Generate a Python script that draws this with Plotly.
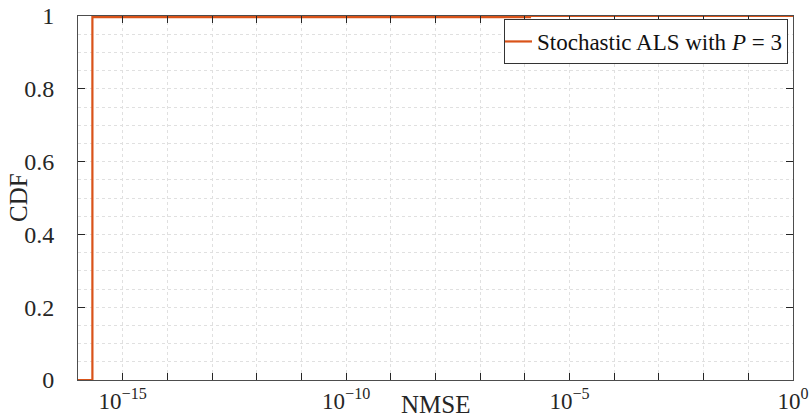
import plotly.graph_objects as go

# CDF curve (step points)
nmse_vals = [1e-16, 2.1e-16, 1.3e-6, 1.0]
cdf_vals = [0.0, 0.997, 1.0, 1.0]
series_name = "Stochastic ALS with <i>P</i> = 3"

x_tick_vals = [10.0 ** k for k in range(-16, 1)]
x_tick_text = ["10<sup>\u2212%d</sup>" % (-k) if k % 5 == 0 and k != 0 else ("10<sup>0</sup>" if k == 0 else "") for k in range(-16, 1)]
y_tick_vals = [0, 0.2, 0.4, 0.6, 0.8, 1]
y_tick_text = ["0", "0.2", "0.4", "0.6", "0.8", "1"]
x_title = "NMSE"
y_title = "CDF"

FONT = "Liberation Serif"
AX = "#4d4d4d"
L, R, T, B = 78, 17, 16, 39
PW, PH = 810 - L - R, 419 - T - B

fig = go.Figure()
fig.add_trace(go.Scatter(
    x=nmse_vals, y=cdf_vals, mode="lines", line_shape="hv",
    line=dict(color="#D95319", width=2.2), name=series_name, showlegend=True,
))

fig.update_layout(
    width=810, height=419,
    margin=dict(l=L, r=R, t=T, b=B, autoexpand=False),
    paper_bgcolor="white", plot_bgcolor="white",
    font=dict(family=FONT, size=22, color="#262626"),
    showlegend=True,
    legend=dict(x=(788 - L) / PW, y=(380 - 19) / PH, xanchor="right", yanchor="top",
                bordercolor="#333333", borderwidth=1, bgcolor="white",
                font=dict(family=FONT, size=23, color="#111111"),
                itemwidth=30, tracegroupgap=0, indentation=-8),
    xaxis=dict(
        type="log", range=[-16, 0], automargin=False,
        tickvals=x_tick_vals, ticktext=x_tick_text,
        ticks="inside", ticklen=7, tickcolor="#262626",
        showline=True, linecolor=AX, linewidth=1, mirror="allticks",
        showgrid=True, gridcolor="#e0e0e0", griddash="dot", gridwidth=1,
        zeroline=False,
        tickfont=dict(family=FONT, size=23),
    ),
    yaxis=dict(
        range=[0, 1], automargin=False,
        tickvals=y_tick_vals, ticktext=[t + "\u00a0\u00a0\u00a0" for t in y_tick_text],
        ticks="inside", ticklen=7, tickcolor="#262626",
        showline=True, linecolor=AX, linewidth=1, mirror="allticks",
        showgrid=True, gridcolor="#e0e0e0", griddash="dot", gridwidth=1,
        zeroline=False,
        minor=dict(dtick=0.05, tick0=0, showgrid=True, gridcolor="#e0e0e0", griddash="dot", ticks=""),
        tickfont=dict(family=FONT, size=24),
    ),
    annotations=[
        dict(text=x_title, xref="paper", yref="paper", x=0.5, y=(380 - 404) / PH,
             xanchor="center", yanchor="middle", showarrow=False,
             font=dict(family=FONT, size=25, color="#262626")),
        dict(text=y_title, xref="paper", yref="paper", x=(18 - L) / PW, y=0.5,
             xanchor="center", yanchor="middle", showarrow=False, textangle=-90,
             font=dict(family=FONT, size=25, color="#262626")),
    ],
)

fig.write_html("out.html")
